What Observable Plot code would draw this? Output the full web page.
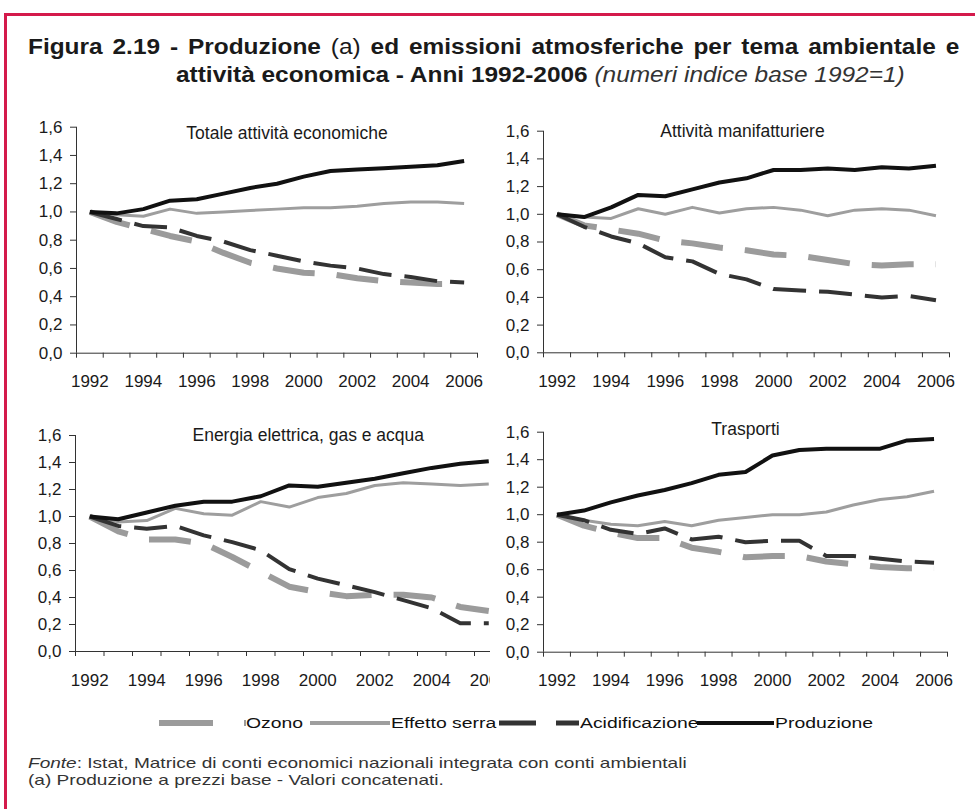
<!DOCTYPE html>
<html><head><meta charset="utf-8">
<script src="https://cdn.jsdelivr.net/npm/d3@7"></script>
<script src="https://cdn.jsdelivr.net/npm/@observablehq/plot@0.6"></script>
<style>
body{margin:0;background:#fff;}
#root{position:relative;width:975px;height:809px;overflow:hidden;background:#fff;font-family:"Liberation Sans",Arial,sans-serif;color:#111;}
.bl{position:absolute;left:4px;top:13px;width:3px;height:796px;background:#d41a4b;}
.bt{position:absolute;left:4px;top:13px;width:971px;height:3px;background:#d41a4b;}
#t1{position:absolute;left:28px;top:33px;width:839px;font-weight:bold;font-size:22px;line-height:28px;text-align:justify;text-align-last:justify;color:#1a1a1a;transform:scaleX(1.11);transform-origin:0 0;white-space:normal;}
#t2{position:absolute;left:176px;top:61px;font-weight:bold;font-size:22px;line-height:28px;color:#1a1a1a;white-space:nowrap;transform:scaleX(1.11);transform-origin:0 0;}
.n{font-weight:normal;}
.it{font-weight:normal;font-style:italic;color:#333;}
.panel{position:absolute;}
.panel svg{max-width:none !important;}
.leg{position:absolute;top:712px;height:22px;font-size:15.5px;line-height:22px;white-space:nowrap;color:#111;transform:scaleX(1.25);transform-origin:0 50%;}
.legsw{position:absolute;top:712px;}
#foot{position:absolute;left:28px;top:755px;font-size:15px;line-height:16.5px;color:#333;white-space:nowrap;transform:scaleX(1.27);transform-origin:0 0;}
</style>
</head><body>
<div id="root">
  <div class="bt"></div><div class="bl"></div>
  <div id="t1">Figura 2.19 - Produzione <span class="n">(a)</span> ed emissioni atmosferiche per tema ambientale e</div>
  <div id="t2">attività economica - Anni 1992-2006 <span class="it">(numeri indice base 1992=1)</span></div>
  <div class="panel" id="p1" style="left:0;top:110px;"></div>
  <div class="panel" id="p2" style="left:485px;top:110px;"></div>
  <div class="panel" id="p3" style="left:0;top:400px;width:490px;height:300px;overflow:hidden;"></div>
  <div class="panel" id="p4" style="left:485px;top:400px;"></div>
  <div id="legend"></div>
  <div id="foot"><i>Fonte</i>: Istat, Matrice di conti economici nazionali integrata con conti ambientali<br>(a) Produzione a prezzi base - Valori concatenati.</div>
</div>
<script>
// ---- data ----
const years = [1992,1993,1994,1995,1996,1997,1998,1999,2000,2001,2002,2003,2004,2005,2006];
const xLabelYears = [1992,1994,1996,1998,2000,2002,2004,2006];
const yTicks = [0,0.2,0.4,0.6,0.8,1.0,1.2,1.4,1.6];
const seriesNames = ["Ozono","Effetto serra","Acidificazione","Produzione"];
const panelTitles = ["Totale attività economiche","Attività manifatturiere","Energia elettrica, gas e acqua","Trasporti"];

// Totale attività economiche
const totOzono = [1.00,0.93,0.88,0.83,0.79,0.71,0.64,0.60,0.57,0.56,0.53,0.51,0.50,0.49,0.49];
const totSerra = [1.00,0.98,0.97,1.02,0.99,1.00,1.01,1.02,1.03,1.03,1.04,1.06,1.07,1.07,1.06];
const totAcid  = [1.00,0.95,0.90,0.89,0.83,0.79,0.73,0.69,0.65,0.62,0.60,0.56,0.54,0.51,0.50];
const totProd  = [1.00,0.99,1.02,1.08,1.09,1.13,1.17,1.20,1.25,1.29,1.30,1.31,1.32,1.33,1.36];
// Attività manifatturiere
const manOzono = [1.00,0.92,0.89,0.86,0.81,0.79,0.76,0.74,0.71,0.70,0.67,0.64,0.63,0.64,0.64];
const manSerra = [1.00,0.98,0.97,1.04,1.00,1.05,1.01,1.04,1.05,1.03,0.99,1.03,1.04,1.03,0.99];
const manAcid  = [1.00,0.91,0.84,0.79,0.69,0.66,0.57,0.53,0.46,0.45,0.44,0.42,0.40,0.41,0.38];
const manProd  = [1.00,0.98,1.05,1.14,1.13,1.18,1.23,1.26,1.32,1.32,1.33,1.32,1.34,1.33,1.35];
// Energia elettrica, gas e acqua
const enOzono = [1.00,0.89,0.83,0.83,0.80,0.70,0.59,0.48,0.44,0.41,0.42,0.42,0.40,0.33,0.30];
const enSerra = [1.00,0.96,0.97,1.06,1.02,1.01,1.11,1.07,1.14,1.17,1.23,1.25,1.24,1.23,1.24];
const enAcid  = [1.00,0.93,0.91,0.93,0.86,0.81,0.75,0.61,0.54,0.49,0.44,0.38,0.32,0.21,0.21];
const enProd  = [1.00,0.98,1.03,1.08,1.11,1.11,1.15,1.23,1.22,1.25,1.28,1.32,1.36,1.39,1.41];
// Trasporti
const traOzono = [1.00,0.92,0.87,0.83,0.83,0.76,0.73,0.69,0.70,0.70,0.66,0.64,0.62,0.61,0.61];
const traSerra = [1.00,0.96,0.93,0.92,0.95,0.92,0.96,0.98,1.00,1.00,1.02,1.07,1.11,1.13,1.17];
const traAcid  = [1.00,0.96,0.89,0.86,0.90,0.82,0.84,0.80,0.81,0.81,0.70,0.70,0.68,0.66,0.65];
const traProd  = [1.00,1.03,1.09,1.14,1.18,1.23,1.29,1.31,1.43,1.47,1.48,1.48,1.48,1.54,1.55];

// ---- styles ----
const styles = {
  "Ozono":          {stroke:"#9b9b9b", strokeWidth:6, strokeDasharray:"42,22"},
  "Effetto serra":  {stroke:"#9e9e9e", strokeWidth:3},
  "Acidificazione": {stroke:"#333333", strokeWidth:4, strokeDasharray:"33,13"},
  "Produzione":     {stroke:"#111111", strokeWidth:4}
};

const fmt = d => d.toFixed(1).replace(".", ",");
const bounds = years.map(y => y - 0.5).concat([years[years.length-1] + 0.5]);

function rowsFor(arrs) {
  const rows = [];
  seriesNames.forEach((s, k) => years.forEach((y, i) => rows.push({year:y, series:s, value:arrs[k][i]})));
  return rows;
}

function panel(el, title, arrs, g) {
  const rows = rowsFor(arrs);
  const chart = Plot.plot({
    width: g.w, height: g.h,
    marginLeft: g.ml, marginRight: g.mr, marginTop: g.mt, marginBottom: g.mb,
    x: {type:"linear", domain:[bounds[0], bounds[bounds.length-1]], axis:null},
    y: {domain:[0, 1.6], axis:null},
    style: {fontFamily:'"Liberation Sans", Arial, sans-serif', fontSize:"17px", color:"#1a1a1a", background:"transparent", overflow:"visible", maxWidth:"none"},
    marks: [
      Plot.axisY(yTicks, {tickSize:6, tickPadding:8, tickFormat:fmt, label:null, stroke:"#333"}),
      Plot.axisX(bounds, {tickSize:5, tickFormat:() => "", label:null, stroke:"#333"}),
      Plot.axisX(xLabelYears, {tickSize:0, tickPadding:22, tickFormat:d => String(d), label:null}),
      Plot.ruleX([bounds[0]], {stroke:"#333"}),
      Plot.ruleY([0], {stroke:"#333"}),
      ...seriesNames.map(s => Plot.line(rows.filter(r => r.series === s), {
        x:"year", y:"value", ...styles[s], strokeLinejoin:"round", strokeLinecap:"butt"
      })),
      Plot.text([title], {frameAnchor:"top", lineAnchor:"middle", dx:g.tdx, dy:g.tdy, fontSize:17.5, fill:"#1a1a1a"})
    ]
  });
  document.getElementById(el).appendChild(chart);
}

panel("p1", panelTitles[0], [totOzono, totSerra, totAcid, totProd],
  {w:490, h:280, ml:76, mr:13, mt:16.7, mb:37.3, tdx:10, tdy:6});
panel("p2", panelTitles[1], [manOzono, manSerra, manAcid, manProd],
  {w:490, h:280, ml:58, mr:26, mt:20.7, mb:37.7, tdx:-4, tdy:0});
panel("p3", panelTitles[2], [enOzono, enSerra, enAcid, enProd],
  {w:503, h:300, ml:75, mr:0.5, mt:35, mb:49, tdx:19, tdy:0});
panel("p4", panelTitles[3], [traOzono, traSerra, traAcid, traProd],
  {w:490, h:300, ml:58, mr:28, mt:31.7, mb:48.3, tdx:0, tdy:-3});

// ---- legend ----
const legendItems = [
  {name:"Ozono",          x0:159, x1:246, tx:246, label:"Ozono", dash:"54,31", sw:6},
  {name:"Effetto serra",  x0:310, x1:390, tx:391, label:"Effetto serra", sw:4},
  {name:"Acidificazione", x0:499, x1:579, tx:580, label:"Acidificazione", dash:"37,20", sw:5},
  {name:"Produzione",     x0:697, x1:774, tx:775, label:"Produzione", sw:4}
];
const legend = document.getElementById("legend");
legendItems.forEach(it => {
  const st = styles[it.name];
  const w = it.x1 - it.x0;
  const sw = document.createElement("div");
  sw.className = "legsw";
  sw.style.left = it.x0 + "px";
  sw.innerHTML = `<svg width="${w}" height="22"><line x1="0" x2="${w}" y1="11" y2="11" stroke="${st.stroke}" stroke-width="${it.sw}" ${it.dash ? `stroke-dasharray="${it.dash}"` : ""}/></svg>`;
  legend.appendChild(sw);
  const t = document.createElement("div");
  t.className = "leg";
  t.style.left = it.tx + "px";
  t.textContent = it.label;
  legend.appendChild(t);
});
</script>
</body></html>
